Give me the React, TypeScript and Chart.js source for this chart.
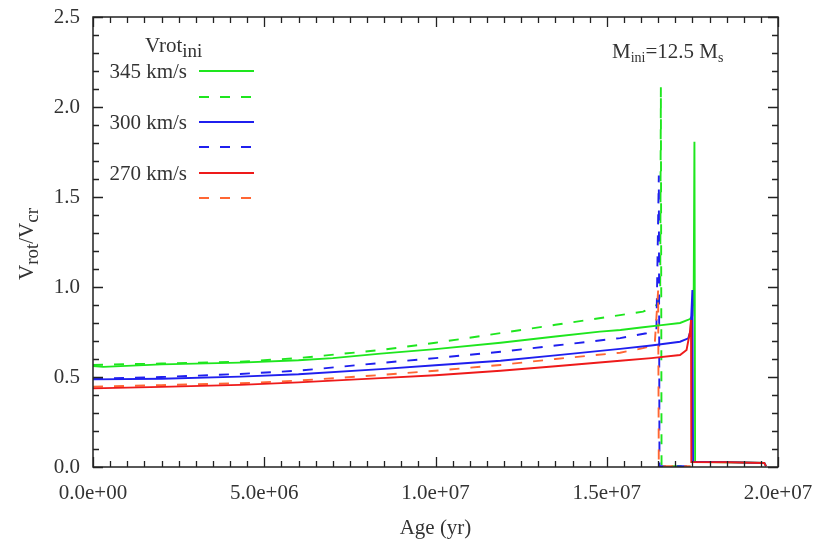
import React, { useEffect, useRef } from 'react';
import { Chart, registerables } from 'chart.js';

Chart.register(...registerables);

// ---------- data (ages in years, values Vrot/Vcr) ----------
const ageG345 = [0, 0.3e6, 2e6, 4.3e6, 6e6, 7e6, 8.4e6, 10e6, 11.9e6, 13.5e6, 14.8e6, 15.4e6, 16.0e6, 16.6e6, 17.14e6, 17.43e6, 17.5e6, 17.54e6, 17.56e6, 17.58e6, 18e6, 19e6, 19.6e6, 19.65e6];
const valG345 = [0.561, 0.556, 0.57, 0.58, 0.593, 0.605, 0.63, 0.655, 0.69, 0.725, 0.752, 0.761, 0.775, 0.788, 0.8, 0.822, 0.84, 1.0, 1.807, 0.03, 0.028, 0.025, 0.022, 0.005];

const ageG345d = [0, 2e6, 4.3e6, 6e6, 8.4e6, 10e6, 11.9e6, 13.5e6, 15.39e6, 16.06e6, 16.46e6, 16.56e6, 16.58e6, 16.6e6, 17.45e6];
const valG345d = [0.567, 0.575, 0.585, 0.605, 0.65, 0.69, 0.744, 0.79, 0.844, 0.863, 0.9, 0.95, 2.11, 0.005, 0.005];

const ageB300 = [0, 2e6, 4.3e6, 6e6, 8.4e6, 10e6, 11.9e6, 13.5e6, 15.39e6, 16.3e6, 17.14e6, 17.38e6, 17.45e6, 17.5e6, 17.52e6, 18.5e6, 19.6e6, 19.65e6];
const valB300 = [0.487, 0.49, 0.502, 0.515, 0.544, 0.565, 0.59, 0.62, 0.656, 0.675, 0.696, 0.715, 0.76, 0.983, 0.03, 0.027, 0.022, 0.005];

const ageB300d = [0, 2e6, 4.3e6, 6e6, 8.4e6, 10e6, 11.9e6, 13.5e6, 15.39e6, 16.16e6, 16.45e6, 16.52e6, 16.54e6, 17.45e6];
const valB300d = [0.49, 0.5, 0.517, 0.535, 0.578, 0.605, 0.64, 0.675, 0.716, 0.743, 0.76, 1.62, 0.005, 0.005];

const ageR270 = [0, 2e6, 4.3e6, 6e6, 8.4e6, 10e6, 11.9e6, 13.5e6, 15.39e6, 16.3e6, 17.14e6, 17.33e6, 17.43e6, 17.46e6, 17.47e6, 18.5e6, 19.6e6, 19.65e6];
const valR270 = [0.437, 0.445, 0.456, 0.47, 0.494, 0.51, 0.535, 0.56, 0.59, 0.605, 0.622, 0.65, 0.75, 0.817, 0.028, 0.026, 0.022, 0.005];

const ageO270d = [0, 2e6, 4.3e6, 6e6, 8.4e6, 10e6, 11.9e6, 13.5e6, 15.39e6, 16.06e6, 16.4e6, 16.5e6, 16.52e6, 17.45e6];
const valO270d = [0.446, 0.455, 0.465, 0.48, 0.511, 0.535, 0.567, 0.6, 0.635, 0.66, 0.68, 0.98, 0.005, 0.005];

const legendLabels = ['345 km/s', '', '300 km/s', '', '270 km/s', ''];
const legendColors = ['#1ee61e', '#1ee61e', '#1f1fee', '#1f1fee', '#ee1a1a', '#ff6633'];
const legendDashed = [false, true, false, true, false, true];

const xTickStep = 5e6;
const yTickStep = 0.5;

const FONT = '"Liberation Serif", "DejaVu Serif", "Times New Roman", serif';
const TEXT = '#333333';

const pts = (xs: number[], ys: number[]) => xs.map((x, i) => ({ x, y: ys[i] }));

function fmtExp(v: number): string {
  const [m, e] = v.toExponential(1).split('e');
  const sign = e[0] === '-' ? '-' : '+';
  const d = e.replace(/[+-]/, '').padStart(2, '0');
  return `${m}e${sign}${d}`;
}

type Part = { t: string; size: number; dy: number };
function drawRich(ctx: CanvasRenderingContext2D, parts: Part[], x: number, y: number) {
  let cx = x;
  for (const p of parts) {
    ctx.font = `${p.size}px ${FONT}`;
    ctx.fillText(p.t, cx, y + p.dy);
    cx += ctx.measureText(p.t).width;
  }
}

const framePlugin = {
  id: 'framePlugin',
  afterDraw(chart: any) {
    const ctx: CanvasRenderingContext2D = chart.ctx;
    const { left, right, top, bottom } = chart.chartArea;
    const xs = chart.scales.x;
    const ys = chart.scales.y;
    ctx.save();
    ctx.strokeStyle = '#222';
    ctx.lineWidth = 1.5;
    ctx.strokeRect(left, top, right - left, bottom - top);
    ctx.lineWidth = 1.3;
    ctx.beginPath();
    for (let i = 0; i <= 40; i++) {
      const px = Math.round(xs.getPixelForValue(i * 5e5)) + 0.5;
      const len = i % 10 === 0 ? 10 : 6;
      ctx.moveTo(px, bottom);
      ctx.lineTo(px, bottom - len);
      ctx.moveTo(px, top);
      ctx.lineTo(px, top + len);
    }
    for (let i = 0; i <= 25; i++) {
      const py = Math.round(ys.getPixelForValue(i * 0.1)) + 0.5;
      const len = i % 5 === 0 ? 10 : 6;
      ctx.moveTo(left, py);
      ctx.lineTo(left + len, py);
      ctx.moveTo(right, py);
      ctx.lineTo(right - len, py);
    }
    ctx.stroke();

    // legend
    ctx.fillStyle = TEXT;
    ctx.textBaseline = 'alphabetic';
    ctx.textAlign = 'left';
    drawRich(ctx, [
      { t: 'Vrot', size: 21, dy: 0 },
      { t: 'ini', size: 19, dy: 5 },
    ], 145, 52);
    const rowY = [71, 97, 122, 147, 173, 198];
    for (let i = 0; i < legendLabels.length; i++) {
      const y = rowY[i];
      if (legendLabels[i]) {
        ctx.font = `21px ${FONT}`;
        ctx.textAlign = 'right';
        ctx.textBaseline = 'middle';
        ctx.fillStyle = TEXT;
        ctx.fillText(legendLabels[i], 187, y + 1);
      }
      ctx.beginPath();
      ctx.strokeStyle = legendColors[i];
      ctx.lineWidth = 1.9;
      ctx.setLineDash(legendDashed[i] ? [10, 11] : []);
      ctx.moveTo(199, y);
      ctx.lineTo(254, y);
      ctx.stroke();
      ctx.setLineDash([]);
    }

    // annotation
    ctx.textAlign = 'left';
    ctx.textBaseline = 'alphabetic';
    ctx.fillStyle = TEXT;
    drawRich(ctx, [
      { t: 'M', size: 21, dy: 0 },
      { t: 'ini', size: 14, dy: 4 },
      { t: '=12.5 M', size: 21, dy: 0 },
      { t: 's', size: 14, dy: 4 },
    ], 612, 58);

    // y-axis title
    ctx.save();
    ctx.translate(33, 280);
    ctx.rotate(-Math.PI / 2);
    drawRich(ctx, [
      { t: 'V', size: 21, dy: 0 },
      { t: 'rot', size: 19, dy: 5 },
      { t: '/V', size: 21, dy: 0 },
      { t: 'cr', size: 19, dy: 5 },
    ], 0, 0);
    ctx.restore();
    ctx.restore();
  },
};

export default function App() {
  const ref = useRef<HTMLCanvasElement | null>(null);
  useEffect(() => {
    document.body.style.margin = '0';
    const canvas = ref.current;
    if (!canvas) return;
    const common = { pointRadius: 0, borderWidth: 1.9, tension: 0, fill: false };
    const chart = new Chart(canvas, {
      type: 'line',
      data: {
        datasets: [
          { ...common, label: '270 km/s', data: pts(ageR270, valR270), borderColor: legendColors[4] },
          { ...common, label: '300 km/s', data: pts(ageB300, valB300), borderColor: legendColors[2] },
          { ...common, label: '345 km/s', data: pts(ageG345, valG345), borderColor: legendColors[0] },
          { ...common, label: '270 km/s dashed', data: pts(ageO270d, valO270d), borderColor: legendColors[5], borderDash: [10, 11] },
          { ...common, label: '300 km/s dashed', data: pts(ageB300d, valB300d), borderColor: legendColors[3], borderDash: [10, 11] },
          { ...common, label: '345 km/s dashed', data: pts(ageG345d, valG345d), borderColor: legendColors[1], borderDash: [10, 11] },
        ] as any,
      },
      options: {
        animation: false,
        responsive: false,
        devicePixelRatio: 1,
        layout: { autoPadding: false, padding: { top: 17, right: 42, bottom: 0, left: 0 } },
        plugins: { legend: { display: false }, tooltip: { enabled: false } },
        scales: {
          x: {
            type: 'linear',
            min: 0,
            max: 2e7,
            afterFit: (s: any) => { s.height = 79; s.paddingLeft = 0; s.paddingRight = 0; },
            grid: { display: false, drawTicks: false, tickLength: 0 },
            border: { display: false },
            ticks: {
              stepSize: xTickStep,
              padding: 14,
              color: TEXT,
              font: { family: FONT, size: 21 },
              maxRotation: 0,
              autoSkip: false,
              callback: (v: any) => fmtExp(Number(v)),
            },
            title: {
              display: true,
              text: 'Age (yr)',
              color: TEXT,
              font: { family: FONT, size: 21 },
              padding: { top: 0, bottom: 5 },
            },
          },
          y: {
            type: 'linear',
            min: 0,
            max: 2.5,
            afterFit: (s: any) => { s.width = 93; s.paddingTop = 0; s.paddingBottom = 0; },
            grid: { display: false, drawTicks: false, tickLength: 0 },
            border: { display: false },
            ticks: {
              stepSize: yTickStep,
              padding: 13,
              color: TEXT,
              font: { family: FONT, size: 21 },
              callback: (v: any) => Number(v).toFixed(1),
            },
          },
        },
      } as any,
      plugins: [framePlugin],
    });
    return () => chart.destroy();
  }, []);
  return (
    <div style={{ width: 820, height: 546, background: '#fff' }}>
      <canvas ref={ref} width={820} height={546} style={{ display: 'block', width: 820, height: 546 }} />
    </div>
  );
}
